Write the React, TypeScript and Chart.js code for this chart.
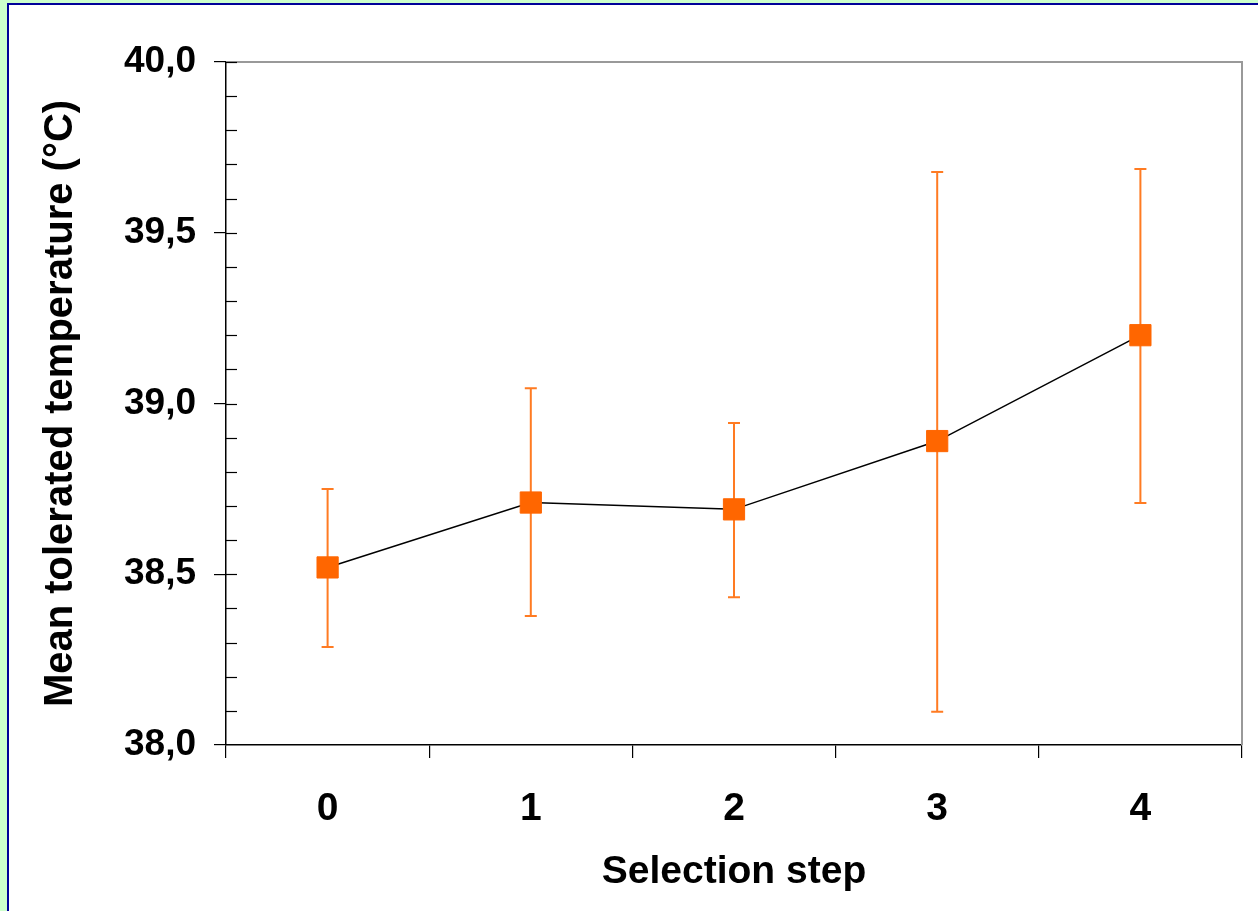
import React, { useEffect, useRef } from "react";
import { Chart, registerables } from "chart.js";

Chart.register(...registerables);

const categories = ["0", "1", "2", "3", "4"];
const meanTemps = [38.52, 38.71, 38.69, 38.89, 39.2];
const upperTemps = [38.75, 39.045, 38.943, 39.678, 39.687];
const lowerTemps = [38.287, 38.378, 38.433, 38.097, 38.709];
const yMin = 38.0;
const yMax = 40.0;
const yMajorStep = 0.5;
const yMinorStep = 0.1;

const FONT = "'Liberation Sans', Arial, Helvetica, sans-serif";

const decorPlugin = {
  id: "decor",
  beforeDatasetsDraw(chart: any) {
    const { ctx, chartArea, scales } = chart;
    const x = scales.x;
    const y = scales.y;
    ctx.save();
    // top and right gray frame
    ctx.strokeStyle = "#999999";
    ctx.lineWidth = 2;
    ctx.beginPath();
    ctx.moveTo(chartArea.left, chartArea.top);
    ctx.lineTo(chartArea.right, chartArea.top);
    ctx.lineTo(chartArea.right, chartArea.bottom);
    ctx.stroke();
    // inside minor ticks
    ctx.strokeStyle = "#000000";
    ctx.lineWidth = 1.2;
    const n = Math.round((yMax - yMin) / yMinorStep);
    for (let i = 1; i <= n; i++) {
      const v = yMin + i * yMinorStep;
      const py = Math.round(y.getPixelForValue(v)) + 0.5;
      ctx.beginPath();
      ctx.moveTo(chartArea.left, py);
      ctx.lineTo(chartArea.left + 11, py);
      ctx.stroke();
    }
    // error bars
    ctx.strokeStyle = "#FF7B22";
    ctx.lineWidth = 2;
    for (let i = 0; i < categories.length; i++) {
      const px = x.getPixelForValue(i);
      const yt = y.getPixelForValue(upperTemps[i]);
      const yb = y.getPixelForValue(lowerTemps[i]);
      ctx.beginPath();
      ctx.moveTo(px, yt);
      ctx.lineTo(px, yb);
      ctx.moveTo(px - 6, yt);
      ctx.lineTo(px + 6, yt);
      ctx.moveTo(px - 6, yb);
      ctx.lineTo(px + 6, yb);
      ctx.stroke();
    }
    ctx.restore();
  },
};

export default function App() {
  const ref = useRef<HTMLCanvasElement | null>(null);

  useEffect(() => {
    if (!ref.current) return;
    const chart = new Chart(ref.current, {
      type: "line",
      data: {
        labels: categories,
        datasets: [
          {
            data: meanTemps,
            borderColor: "#000000",
            borderWidth: 1.5,
            pointStyle: "rect",
            pointRadius: 15,
            pointBackgroundColor: "#FF6600",
            pointBorderColor: "#FF6600",
            pointBorderWidth: 1,
            tension: 0,
            fill: false,
          },
        ],
      },
      options: {
        animation: false,
        responsive: false,
        plugins: { legend: { display: false }, tooltip: { enabled: false } },
        layout: { padding: { top: 62, right: 15, left: 0, bottom: 0 } },
        scales: {
          x: {
            type: "category",
            offset: true,
            grid: {
              offset: true,
              drawOnChartArea: false,
              drawTicks: true,
              tickLength: 13,
              color: "#000000",
              lineWidth: 1.2,
            },
            border: { color: "#000000", width: 1.5 },
            ticks: {
              color: "#000000",
              font: { family: FONT, size: 39, weight: "bold" },
              padding: 28,
              maxRotation: 0,
            },
            title: {
              display: true,
              text: "Selection step",
              color: "#000000",
              font: { family: FONT, size: 39, weight: "bold" },
              padding: { top: 0, bottom: 15 },
            },
            afterFit(scale: any) {
              scale.height = 166;
            },
          },
          y: {
            min: yMin,
            max: yMax,
            grid: {
              drawOnChartArea: false,
              drawTicks: true,
              tickLength: 12,
              color: "#000000",
              lineWidth: 1.2,
            },
            border: { color: "#000000", width: 1.5 },
            ticks: {
              stepSize: yMajorStep,
              color: "#000000",
              font: { family: FONT, size: 37, weight: "bold" },
              padding: 18,
              callback: (v: any) => Number(v).toFixed(1).replace(".", ","),
            },
            title: {
              display: true,
              text: "Mean tolerated temperature (°C)",
              color: "#000000",
              font: { family: FONT, size: 40, weight: "bold" },
              padding: { top: 37, bottom: 0 },
            },
            afterFit(scale: any) {
              scale.width = 226;
            },
          },
        },
      },
      plugins: [decorPlugin],
    });
    return () => chart.destroy();
  }, []);

  return (
    <div
      style={{
        position: "fixed",
        left: 0,
        top: 0,
        width: 1258,
        height: 911,
        background: "#CCFFCC",
        overflow: "hidden",
      }}
    >
      <div
        style={{
          position: "absolute",
          left: 7,
          top: 3,
          width: 1400,
          height: 1100,
          border: "2px solid #000099",
          background: "#FFFFFF",
        }}
      />
      <canvas
        ref={ref}
        width={1258}
        height={911}
        style={{ position: "absolute", left: 0, top: 0 }}
      />
    </div>
  );
}
